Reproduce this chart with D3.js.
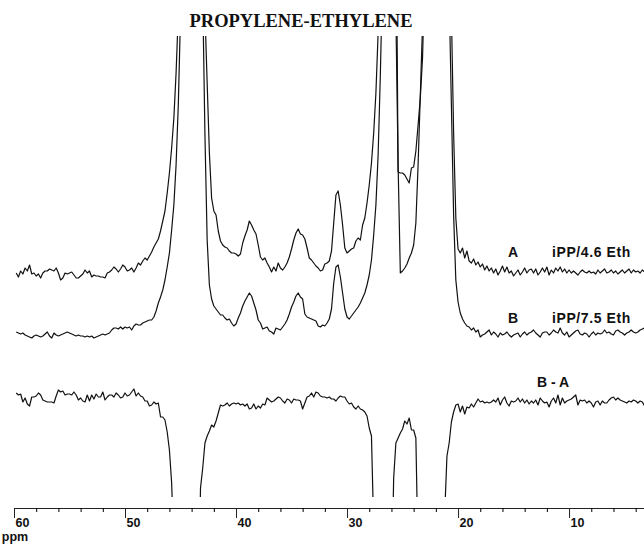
<!DOCTYPE html>
<html lang="en">
<head>
  <meta charset="UTF-8">
  <title>Propylene-Ethylene</title>
  <script src="https://d3js.org/d3.v7.min.js" charset="utf-8"></script>
  <style>
    body {
      margin: 0;
      background: #ffffff;
    }
    .label {
      font-family: 'Liberation Sans', Arial, sans-serif;
      font-weight: bold;
      fill: #111;
    }
  </style>
</head>
<body>
  <div id="wrapper"></div>
  <script>
    // spectra sampled every 0.2 ppm from 59.8 ppm downwards (intensity, arbitrary units)
    const ppmStart = 59.8
    const ppmStep = 0.2

    const traceA = [
      0,-4,2,-1,5,2,8,-1,0,-3,-1,-5,0,2,2,4,3,2,5,0,-7,-5,0,-1,0,
      1,-2,-5,-5,-3,-1,3,0,2,-4,-2,-3,-3,-4,-4,-5,0,1,3,6,4,1,4,8,6,
      2,3,5,1,5,10,8,12,15,13,17,21,26,30,34,42,52,62,80,100,125,155,200,260,330,
      420,500,560,600,600,580,520,450,380,320,260,190,120,75,62,58,42,32,28,26,25,22,20,20,19,
      17,19,30,37,43,52,48,43,39,28,16,13,15,10,6,1,6,2,10,5,3,6,10,16,24,
      33,40,44,39,38,34,25,15,13,10,7,5,2,3,9,10,12,22,50,78,82,68,48,25,20,
      22,24,25,32,35,33,48,55,70,88,110,140,180,240,320,420,520,600,620,600,520,400,101,100,100,
      98,94,90,105,106,122,148,175,215,300,400,500,580,620,640,640,620,580,520,440,360,260,140,55,24,
      20,25,15,22,12,10,14,8,11,6,9,3,7,2,5,0,4,-2,2,7,1,6,0,2,-3,
      0,3,-2,1,5,0,3,4,0,4,-2,1,5,1,6,-2,3,0,5,2,6,1,4,0,3,
      0,2,0,-2,1,3,1,0,2,0,1,-1,3,0,2,4,0,1,3,0,2,-1,1,3,0,
      2,4,0,3,1,2,0,3,1
    ]

    const traceB = [
      3,2,1,2,0,-1,-2,-3,-1,0,-1,-2,-1,1,3,-1,-3,2,0,-1,0,1,2,3,2,
      1,0,-1,0,-1,-1,-2,-1,-2,-1,-3,-2,-1,0,1,0,1,2,5,7,7,6,8,6,8,
      7,8,5,9,11,10,10,12,13,14,15,15,18,24,32,38,45,55,68,82,105,130,170,230,320,
      420,520,600,650,660,640,580,500,420,340,200,95,50,36,29,26,23,20,20,17,15,16,12,9,11,
      17,22,29,34,38,42,39,32,25,15,12,6,7,8,4,3,1,7,6,5,8,11,15,21,28,
      33,39,42,38,36,21,18,17,16,15,14,9,8,10,9,12,16,26,52,68,70,58,42,26,18,
      16,19,22,25,28,32,37,42,50,60,75,100,130,180,260,360,480,580,620,600,500,320,170,62,64,
      67,71,77,82,90,112,170,240,310,400,500,580,640,680,690,680,640,580,500,420,340,230,120,55,33,
      22,16,12,9,8,5,7,3,5,-2,0,1,3,5,0,3,1,-2,2,0,1,3,0,-2,0,
      1,2,-2,1,3,0,2,3,5,2,0,-2,2,3,3,0,2,5,3,2,7,2,0,3,-2,
      0,2,4,5,1,0,2,1,-2,1,3,0,2,1,2,5,2,3,1,0,4,5,3,2,0,
      2,3,5,3,2,3,5,6,7
    ]

    const traceDiff = [
      5,3,4,-4,0,-6,-8,1,1,2,5,3,-2,-3,-4,-4,-4,-5,2,8,6,7,3,4,4,
      3,6,3,-2,0,-3,-4,3,-3,3,-1,4,1,1,6,-2,1,3,3,1,5,3,0,1,5,
      2,3,6,9,2,5,2,1,-3,-3,-8,-7,-4,-6,-5,-19,-19,-22,-34,-52,-85,-150,-250,-300,-300,
      -300,-300,-300,-300,-300,-300,-300,-220,-90,-70,-45,-38,-33,-27,-29,-23,-15,-7,-8,-7,-5,-8,-6,-5,-6,
      -5,-7,-6,-8,-6,-11,-10,-6,-11,-8,-10,-6,-7,0,-2,-4,-3,-1,1,0,-3,-5,-1,-2,-5,
      -1,-2,-2,-3,-11,-5,1,2,5,1,6,5,2,1,1,0,1,-1,-1,-3,0,2,1,1,-3,
      -6,-5,-9,-11,-8,-11,-12,-14,-18,-30,-38,-130,-250,-300,-300,-300,-300,-300,-300,-200,-80,-45,-40,-35,-31,
      -23,-26,-20,-32,-32,-40,-160,-300,-300,-300,-300,-300,-300,-300,-300,-300,-300,-260,-115,-58,-45,-24,-14,-7,-6,
      -14,-8,-16,-9,-10,-6,-9,-5,-1,-4,-3,-5,-4,-5,-4,-2,-4,0,-7,-2,1,-5,-8,-3,-4,
      -3,0,-4,-1,-5,-2,-6,-3,-5,-2,-7,0,-3,-5,-4,-9,-3,0,-5,3,-7,0,-5,-3,-2,
      -1,1,3,-7,-2,-3,-2,-5,-3,-5,-9,-4,-3,-7,-3,-5,-5,-2,0,1,-2,0,-2,-3,-4,
      -5,-3,-4,-2,-3,-5,-3,-4,-8
    ]

    const majorTicks = [60, 50, 40, 30, 20, 10]
    const minorTicks = [58, 56, 54, 52, 48, 46, 44, 42, 38, 36, 34, 32, 28, 26, 24, 22, 18, 16, 14, 12, 8, 6, 4]

    const traceLabels = [
      { tag: "A", name: "iPP/4.6 Eth" },
      { tag: "B", name: "iPP/7.5 Eth" },
      { tag: "B - A", name: "" }
    ]

    const drawSpectrum = () => {
      const dimensions = {
        width: 644,
        height: 544,
        axisY: 508,
        clipTop: 36,
        clipBottom: 497
      }

      const svg = d3.select("#wrapper")
        .append("svg")
          .attr("width", dimensions.width)
          .attr("height", dimensions.height)

      const xScale = d3.scaleLinear()
        .domain([60, 3.25])
        .range([14, 644])

      const yScale = d3.scaleLinear()
        .domain([0, 500])
        .range([508, 8])

      // stacked display: vertical offset of each trace (same units as intensity)
      const stacks = [
        { values: traceA, offset: 235, labelY: 257 },
        { values: traceB, offset: 173, labelY: 323 },
        { values: traceDiff, offset: 110, labelY: 387 }
      ]

      svg.append("defs").append("clipPath")
          .attr("id", "plot-clip")
        .append("rect")
          .attr("x", 0)
          .attr("y", dimensions.clipTop)
          .attr("width", dimensions.width)
          .attr("height", dimensions.clipBottom - dimensions.clipTop)

      const lines = svg.append("g")
        .attr("clip-path", "url(#plot-clip)")

      stacks.forEach(s => {
        const points = s.values.map((v, i) => ({ ppm: ppmStart - i * ppmStep, value: v }))
        const lineGenerator = d3.line()
          .x(d => xScale(d.ppm))
          .y(d => yScale(d.value + s.offset))

        lines.append("path")
          .datum(points)
          .attr("d", lineGenerator)
          .attr("fill", "none")
          .attr("stroke", "#111")
          .attr("stroke-width", 1.2)
          .attr("stroke-linejoin", "round")
      })

      // title
      svg.append("text")
        .attr("x", 301)
        .attr("y", 27)
        .attr("text-anchor", "middle")
        .style("font-family", "'Liberation Serif', 'Times New Roman', serif")
        .style("font-weight", "bold")
        .style("font-size", "18.5px")
        .attr("fill", "#111")
        .text("PROPYLENE-ETHYLENE")

      // trace labels
      stacks.forEach((s, i) => {
        const lab = traceLabels[i]
        if (lab.name) {
          svg.append("text")
            .attr("class", "label")
            .attr("x", 513)
            .attr("y", s.labelY)
            .attr("text-anchor", "middle")
            .style("font-size", "14px")
            .text(lab.tag)
          svg.append("text")
            .attr("class", "label")
            .attr("x", 552)
            .attr("y", s.labelY)
            .style("font-size", "14px")
            .style("letter-spacing", "0.6px")
            .text(lab.name)
        } else {
          svg.append("text")
            .attr("class", "label")
            .attr("x", 553)
            .attr("y", s.labelY)
            .attr("text-anchor", "middle")
            .style("font-size", "14px")
            .style("white-space", "pre")
            .text(lab.tag)
        }
      })

      // ppm axis
      const minorAxis = d3.axisBottom(xScale)
        .tickValues(minorTicks)
        .tickSize(4)
        .tickSizeOuter(0)
        .tickFormat("")

      svg.append("g")
        .attr("transform", `translate(0, ${dimensions.axisY})`)
        .call(minorAxis)
        .call(g => g.select(".domain").attr("stroke", "#222").attr("stroke-width", 1.2))

      const majorAxis = d3.axisBottom(xScale)
        .tickValues(majorTicks)
        .tickSize(10)
        .tickSizeOuter(0)

      const xAxis = svg.append("g")
        .attr("transform", `translate(0, ${dimensions.axisY})`)
        .call(majorAxis)

      xAxis.select(".domain").remove()
      xAxis.selectAll(".tick line").attr("stroke", "#222")
      xAxis.selectAll(".tick text")
        .attr("class", "label")
        .attr("text-anchor", "start")
        .attr("x", 1)
        .attr("y", 19)
        .attr("dy", 0)
        .style("font-size", "12.5px")

      xAxis.append("text")
        .attr("class", "label")
        .attr("x", 15)
        .attr("y", 33)
        .style("font-size", "12.5px")
        .text("ppm")
    }
    drawSpectrum()
  </script>
</body>
</html>
